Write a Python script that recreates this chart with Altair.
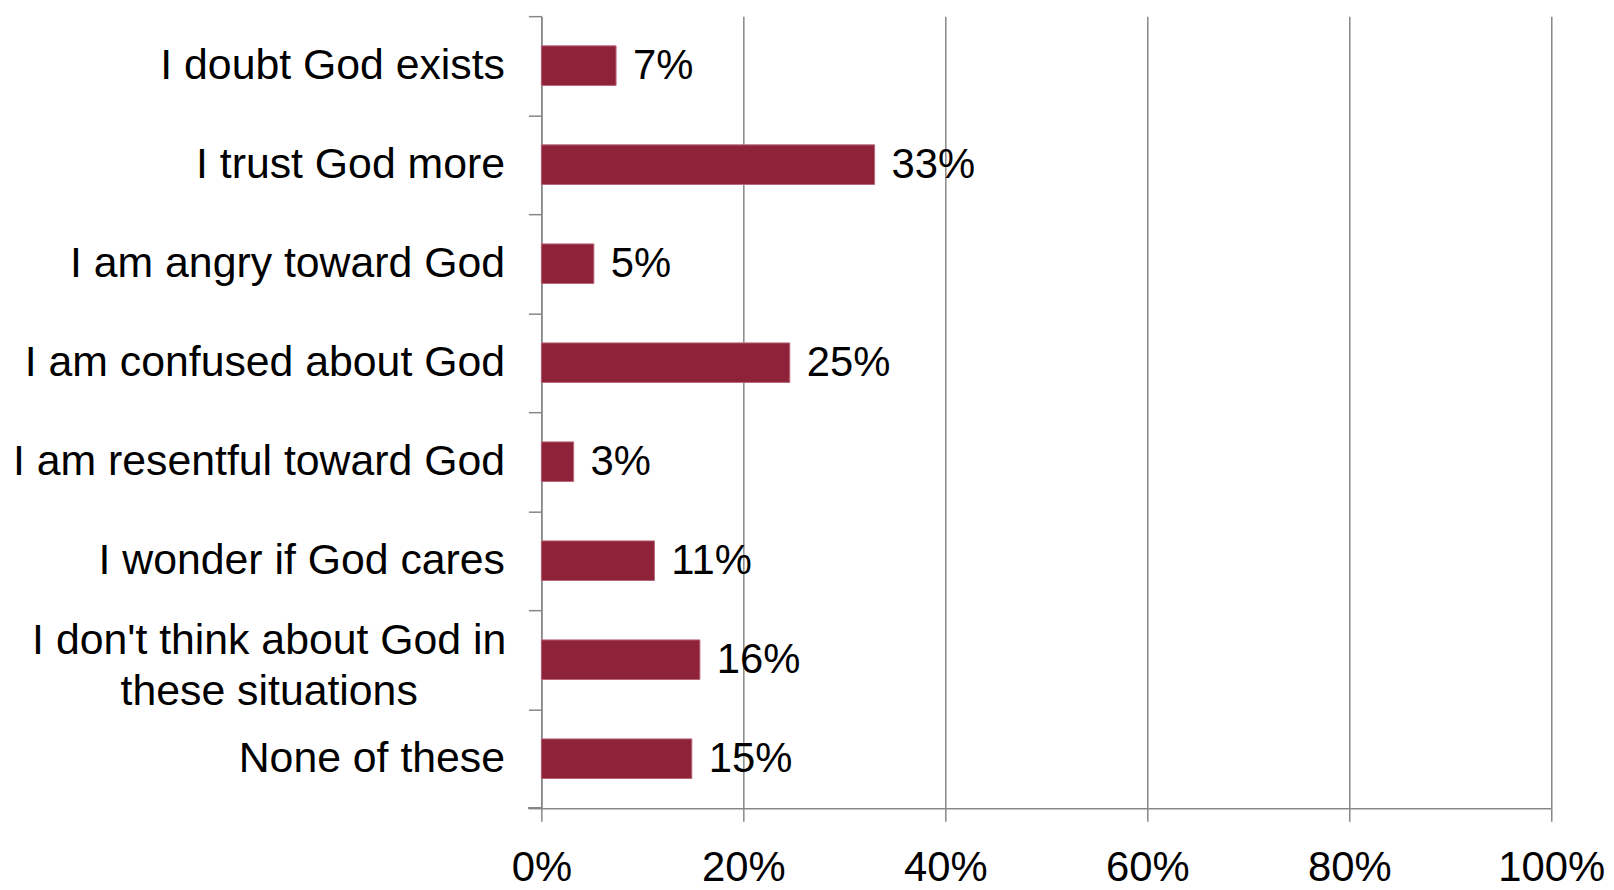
import altair as alt
import pandas as pd

categories = [
    "I doubt God exists",
    "I trust God more",
    "I am angry toward God",
    "I am confused about God",
    "I am resentful toward God",
    "I wonder if God cares",
    "I don't think about God in\nthese situations",
    "None of these",
]
values = [7.4, 33.0, 5.2, 24.6, 3.2, 11.2, 15.7, 14.9]
labels = ["7%", "33%", "5%", "25%", "3%", "11%", "16%", "15%"]
x_ticks = [0, 20, 40, 60, 80, 100]

df = pd.DataFrame({"cat": categories, "val": values, "lab": labels})
df_multi = df[df["cat"].str.contains("\n")]

FONT = "Liberation Sans"
GRAY = "#878787"
W, H = 1015, 796
FS = 43
FS2 = 42

y_enc = alt.Y(
    "cat:N",
    sort=categories,
    title=None,
    scale=alt.Scale(paddingInner=0, paddingOuter=0),
    axis=alt.Axis(
        tickBand="extent",
        domainColor=GRAY,
        domainWidth=1.5,
        tickColor=GRAY,
        tickWidth=1.5,
        tickSize=13,
        labelFont=FONT,
        labelFontSize=FS,
        labelColor="#000000",
        labelPadding=24,
        labelLimit=0,
        labelExpr="indexof(datum.label, '\\n') >= 0 ? '' : datum.label",
        grid=False,
    ),
)

x_enc = alt.X(
    "val:Q",
    title=None,
    scale=alt.Scale(domain=[0, 100], nice=False),
    axis=alt.Axis(
        values=x_ticks,
        labelExpr="datum.value + '%'",
        domainColor=GRAY,
        domainWidth=1.5,
        tickColor=GRAY,
        tickWidth=1.5,
        tickSize=13,
        grid=True,
        gridColor=GRAY,
        gridWidth=1.5,
        labelFont=FONT,
        labelFontSize=FS2,
        labelColor="#000000",
        labelPadding=27,
        labelFlush=False,
    ),
)

bars = alt.Chart(df).mark_bar(
    color="#8e2239",
    stroke="#b8687c",
    strokeWidth=1,
    height={"band": 0.4},
).encode(x=x_enc, y=y_enc)

text = alt.Chart(df).mark_text(
    align="left",
    baseline="middle",
    dx=17,
    font=FONT,
    fontSize=FS2,
    color="#000000",
).encode(x="val:Q", y=alt.Y("cat:N", sort=categories), text="lab:N")

multi_label = alt.Chart(df_multi).mark_text(
    align="center",
    baseline="middle",
    lineBreak="\n",
    lineHeight=52,
    dy=-19,
    font=FONT,
    fontSize=FS,
    color="#000000",
).encode(x=alt.value(-273.5), y=alt.Y("cat:N", sort=categories), text="cat:N")

corner = alt.Chart(df).mark_rule(color=GRAY, strokeWidth=1.5).encode(
    x=alt.value(-13), x2=alt.value(0), y=alt.value(H)
)

chart = (
    alt.layer(bars, text, multi_label, corner)
    .properties(
        width=W,
        height=H,
        autosize=alt.AutoSizeParams(type="none"),
        padding={"left": 536, "top": 6, "right": 55, "bottom": 80},
        background="#ffffff",
    )
    .configure_view(stroke=None)
)

chart.save("out.html", embed_options={"renderer": "svg", "actions": False})
